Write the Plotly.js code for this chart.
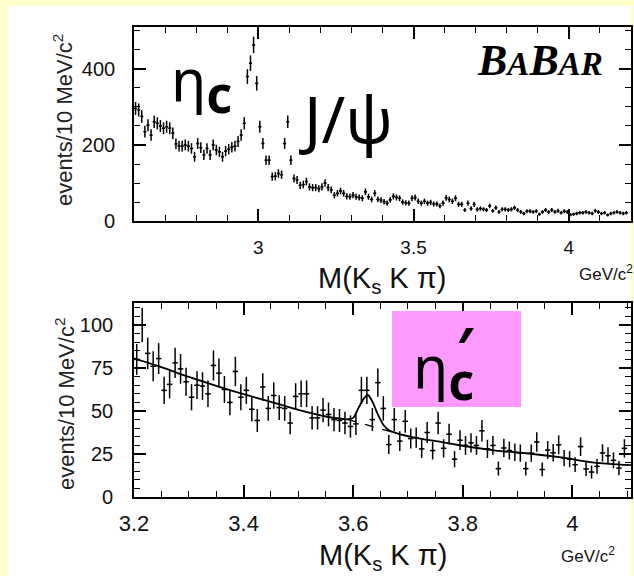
<!DOCTYPE html>
<html>
<head>
<meta charset="utf-8">
<script src="https://cdn.plot.ly/plotly-3.0.1.min.js"></script>
<style>
  html, body { margin: 0; padding: 0; background: #FFFFCC; }
  #sheet { position: absolute; left: 8px; top: 6px; width: 623px; height: 570px; background: white; }
  #chart { position: absolute; left: 0; top: 0; width: 634px; height: 576px; }
</style>
</head>
<body>
<div id="sheet"></div>
<div id="chart"></div>
<script>
// M(Ks K pi) spectra, 10 MeV bins
let binWidth = 0.01;

// upper panel: 2.60 - 4.19 GeV
let topBinStart = 2.605;
let topCounts = [
    296, 292, 275, 235, 252, 226, 261, 257, 250, 244,
    248, 244, 231, 203, 197, 197, 200, 197, 191, 169,
    204, 193, 174, 191, 174, 200, 187, 182, 169, 184,
    189, 194, 197, 209, 226, 257, 380, 415, 463, 362,
    248, 204, 160, 160, 117, 118, 125, 122, 204, 261,
    160, 112, 108, 94, 96, 104, 90, 88, 88, 85,
    90, 100, 88, 82, 68, 73, 79, 73, 65, 64,
    68, 64, 62, 60, 77, 64, 57, 73, 57, 55,
    51, 47, 56, 65, 62, 60, 50, 48, 47, 60,
    62, 52, 47, 52, 47, 49, 45, 45, 40, 47,
    61, 57, 52, 60, 44, 44, 29, 47, 33, 44,
    31, 33, 31, 29, 40, 27, 35, 24, 31, 31,
    29, 31, 35, 29, 24, 20, 26, 26, 24, 26,
    18, 24, 29, 24, 29, 24, 27, 22, 26, 24,
    17, 18, 20, 22, 22, 24, 22, 20, 27, 24,
    20, 22, 16, 20, 22, 24, 22, 20, 22
];

// lower panel: 3.20 - 4.10 GeV
let botBinStart = 3.205;
let botCounts = [
    80, 100, 83.5, 76, 80.5, 62, 65.5, 78, 74.5, 67,
    58, 65, 64.5, 60, 76.5, 72, 62.5, 55, 73, 58,
    62, 51, 44.5, 64, 51.5, 59, 52, 51.5, 43, 58.5,
    60, 60, 46, 46, 50.5, 48, 45, 44.5, 43, 41,
    42.5, 62, 62, 45, 66.5, 51.5, 30.5, 45, 32.5, 44,
    34, 34.5, 28, 37.5, 27, 43, 28.3, 36.5, 22, 33,
    30, 31.5, 30, 38.5, 28, 30, 16.5, 28.5, 27, 26,
    25.5, 16.5, 25.5, 32, 16, 27.3, 25.7, 30.3, 22.6, 22,
    18.8, 29.3, 16.3, 14.5, 17.8, 25.6, 24, 21.3, 16.8, 28.3
];

// fit (signal + background) and background alone
let fitMass = [3.2, 3.25, 3.3, 3.35, 3.4, 3.45, 3.5, 3.55, 3.59, 3.6, 3.61, 3.62, 3.627,
               3.635, 3.645, 3.655, 3.665, 3.68, 3.71, 3.76, 3.8, 3.86, 3.92, 3.98, 4.04, 4.107];
let fitCurve = [80.6, 75.5, 69.8, 64.6, 59.8, 55.3, 50.6, 46.8, 45.2, 46, 52, 57.5, 59.3,
                55.5, 48, 42, 38.8, 37, 34.7, 32, 29.8, 27, 25.3, 23, 20, 18.5];
let bkgMass = [3.59, 3.62, 3.65, 3.68];
let bkgCurve = [45.2, 42.3, 39.6, 37.1];

let sans = 'Liberation Sans, Arial, sans-serif';

function frameAxis(extra) {
    let base = {
        showline: true, linecolor: 'black', linewidth: 1.6, mirror: 'allticks',
        ticks: 'inside', ticklen: 12, tickwidth: 1.5, tickcolor: 'black',
        showgrid: false, zeroline: false, fixedrange: true
    };
    return Object.assign(base, extra);
}

function minorTicks(step, start) {
    return { ticks: 'inside', ticklen: 6, tick0: start, dtick: step, tickcolor: 'black', tickwidth: 1.4, showgrid: false };
}

let errStyle = { width: 0, thickness: 1.5, color: 'black' };

let topData = {
    x0: topBinStart, dx: binWidth, y: topCounts,
    mode: 'markers', marker: { size: 2, color: 'black' },
    error_y: Object.assign({ type: 'sqrt' }, errStyle),
    error_x: Object.assign({ type: 'constant', value: binWidth / 2 }, errStyle),
    xaxis: 'x', yaxis: 'y', hoverinfo: 'skip'
};

let botData = {
    x0: botBinStart, dx: binWidth, y: botCounts,
    mode: 'markers', marker: { size: 2, color: 'black' },
    error_y: Object.assign({ type: 'sqrt' }, errStyle),
    error_x: Object.assign({ type: 'constant', value: binWidth / 2 }, errStyle),
    xaxis: 'x2', yaxis: 'y2', hoverinfo: 'skip'
};

let fit = {
    x: fitMass, y: fitCurve, mode: 'lines',
    line: { color: 'black', width: 1.8, shape: 'spline', smoothing: 0.6 },
    xaxis: 'x2', yaxis: 'y2', hoverinfo: 'skip'
};

let bkg = {
    x: bkgMass, y: bkgCurve, mode: 'lines',
    line: { color: 'black', width: 1.3, dash: 'dash' },
    xaxis: 'x2', yaxis: 'y2', hoverinfo: 'skip'
};

let titleFont = { family: sans, size: 29, color: '#111' };
let unitFont = { family: sans, size: 17, color: '#111' };
let yTitleFont = { family: sans, size: 22, color: '#222' };
let labelFont = { family: 'Noto Sans, Open Sans, sans-serif', size: 58, color: 'black' };
let bigC = '<sub><b><span style="font-size:50px">c</span></b></sub>';

function note(text, x, y, font, extra) {
    return Object.assign({ text: text, xref: 'paper', yref: 'paper', x: x, y: y,
        xanchor: 'center', yanchor: 'middle', showarrow: false, font: font }, extra || {});
}

let notes = [
    note('M(K<sub>s</sub> K π)', 0.499, 0.4617, titleFont),
    note('GeV/c<sup>2</sup>', 0.891, 0.4766, unitFont, { xanchor: 'left' }),
    note('M(K<sub>s</sub> K π)', 0.501, -0.1277, titleFont),
    note('GeV/c<sup>2</sup>', 0.855, -0.1234, unitFont, { xanchor: 'left' }),
    note('events/10 MeV/c<sup>2</sup>', -0.1428, 0.802, yTitleFont, { textangle: -90 }),
    note('events/10 MeV/c<sup>2</sup>', -0.1388, 0.198, yTitleFont, { textangle: -90 }),
    note('<b><i>B<span style="font-size:33px">A</span>B<span style="font-size:33px">AR</span></i></b>',
         0.8169, 0.9287, { family: 'Liberation Serif, Times New Roman, serif', size: 44, color: 'black' }),
    note('η' + bigC, 0.0705, 0.88, labelFont, { xanchor: 'left' }),
    note('J/ψ', 0.4266, 0.806, { family: 'Noto Sans, Open Sans, sans-serif', size: 64, color: 'black' }),
    // pink box behind eta_c'
    note(' ', 0.6489, 0.2936, { size: 10 }, { width: 129, height: 96, bgcolor: '#FF99FF', borderpad: 0, borderwidth: 0 }),
    note('η' + bigC, 0.5573, 0.2694, labelFont, { xanchor: 'left' }),
    note('<b>′</b>', 0.666, 0.321, labelFont)
];

let layout = {
    width: 634, height: 576,
    margin: { l: 134, r: 3, t: 27, b: 79, pad: 0, autoexpand: false },
    paper_bgcolor: 'rgba(0,0,0,0)', plot_bgcolor: 'rgba(0,0,0,0)',
    showlegend: false,
    xaxis: frameAxis({ domain: [0, 1], anchor: 'y', range: [2.6, 4.2], tick0: 3, dtick: 0.5,
        ticklabelstandoff: 8, tickfont: { family: sans, size: 19, color: '#111' },
        minor: minorTicks(0.1, 3) }),
    yaxis: frameAxis({ domain: [0.587, 1], anchor: 'x', range: [0, 510], tick0: 0, dtick: 200,
        ticklabelstandoff: 13, tickfont: { family: sans, size: 20, color: '#111' },
        minor: minorTicks(50, 0) }),
    xaxis2: frameAxis({ domain: [0, 1], anchor: 'y2', range: [3.2, 4.107], tick0: 3.2, dtick: 0.2,
        ticklabelstandoff: 6, tickfont: { family: sans, size: 22, color: '#111' },
        minor: minorTicks(0.05, 3.2) }),
    yaxis2: frameAxis({ domain: [0, 0.4128], anchor: 'x2', range: [0, 112.8], tick0: 0, dtick: 25,
        ticklabelstandoff: 15, tickfont: { family: sans, size: 20, color: '#111' },
        minor: minorTicks(5, 0) })
};

// axes and data first, texts added afterwards
Plotly.newPlot('chart', [topData, botData, fit, bkg], layout, { displayModeBar: false })
    .then(function (gd) { return Plotly.relayout(gd, { annotations: notes }); });
</script>
</body>
</html>
